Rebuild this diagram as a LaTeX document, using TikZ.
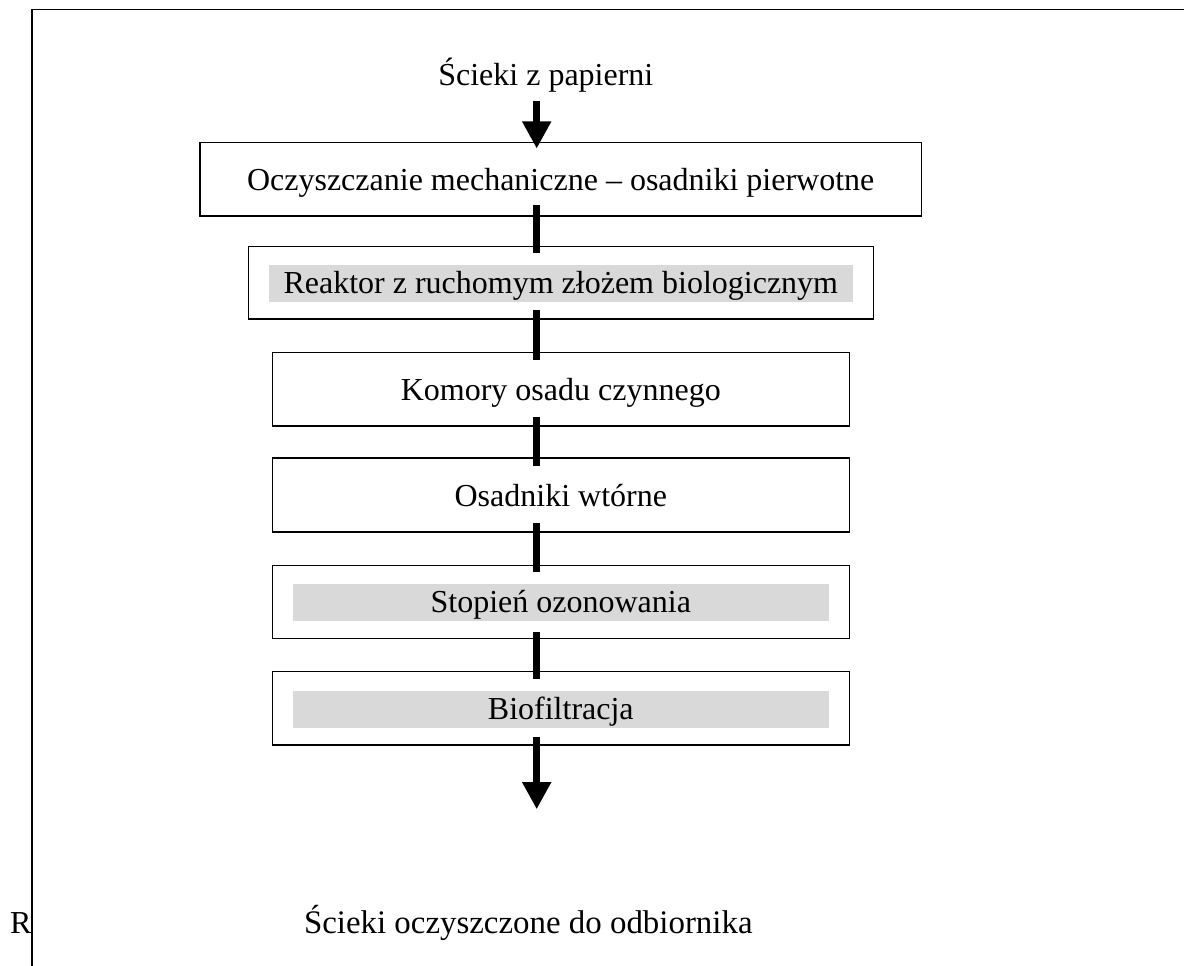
\documentclass[tikz,border=0pt]{standalone}
\usepackage{fontspec}
\setmainfont{Liberation Serif}
\usetikzlibrary{arrows.meta}
\definecolor{hlgray}{RGB}{217,217,217}
\begin{document}
\begin{tikzpicture}[x=1pt,y=-1pt,
  every node/.style={font=\fontsize{32}{38}\selectfont, inner sep=0pt, outer sep=0pt},
  stage/.style={draw, line width=1.3pt, text height=22pt, text depth=0pt, minimum height=73.5pt},
  hl/.style={fill=hlgray, minimum height=36.7pt},
  bar/.style={line width=7pt, shorten <=-9pt, shorten >=-8pt},
  flow/.style={line width=7pt, -{Triangle[width=27.4pt,length=27.3pt]}},
  frame/.style={line width=1.2pt}]
\useasboundingbox (0,0) rectangle (1184,966);

% frame lines
\draw[frame] (1184,9.3) -- (32,9.3) -- (32,966);

% grey highlights behind texts
\node[hl, minimum width=583.7pt] (g2) at (560.8,283.3) {};
\node[hl, minimum width=536pt] (g5) at (560.8,602.3) {};
\node[hl, minimum width=536pt] (g6) at (560.8,709.3) {};

% stages
\node[stage, minimum width=721.3pt, minimum height=73.7pt] (b1) at (560.7,179.2) {Oczyszczanie mechaniczne – osadniki pierwotne};
\node[stage, minimum width=625pt, minimum height=72.3pt] (b2) at (560.8,282.8) {Reaktor z ruchomym złożem biologicznym};
\node[stage, minimum width=577pt, minimum height=73.7pt] (b3) at (560.8,389.2) {Komory osadu czynnego};
\node[stage, minimum width=577pt, minimum height=74pt] (b4) at (560.8,495) {Osadniki wtórne};
\node[stage, minimum width=577pt, minimum height=73pt] (b5) at (560.8,601.8) {Stopień ozonowania};
\node[stage, minimum width=577pt, minimum height=73.7pt] (b6) at (560.8,708.2) {Biofiltracja};

% texts
\node[anchor=base west] (src) at (438.3,85) {Ścieki z papierni};
\node[anchor=base west, font=\fontsize{32.9}{39}\selectfont] (dst) at (304,933.3) {Ścieki oczyszczone do odbiornika};
\node[anchor=base west] (r) at (10,933.3) {R};

% flow axis
\coordinate (ax) at (536.7,100.7);
\coordinate (end) at (536.7,809.3);

\draw[flow, shorten >=-6.3pt] (ax) -- (ax |- b1.north);
\draw[bar, shorten <=-11pt, shorten >=-6.6pt] (ax |- b1.south) -- (ax |- b2.north);
\draw[bar] (ax |- b2.south) -- (ax |- b3.north);
\draw[bar] (ax |- b3.south) -- (ax |- b4.north);
\draw[bar, shorten >=-7pt] (ax |- b4.south) -- (ax |- b5.north);
\draw[bar, shorten <=-6.6pt] (ax |- b5.south) -- (ax |- b6.north);
\draw[flow, shorten <=-8.3pt] (ax |- b6.south) -- (end);
\end{tikzpicture}
\end{document}
